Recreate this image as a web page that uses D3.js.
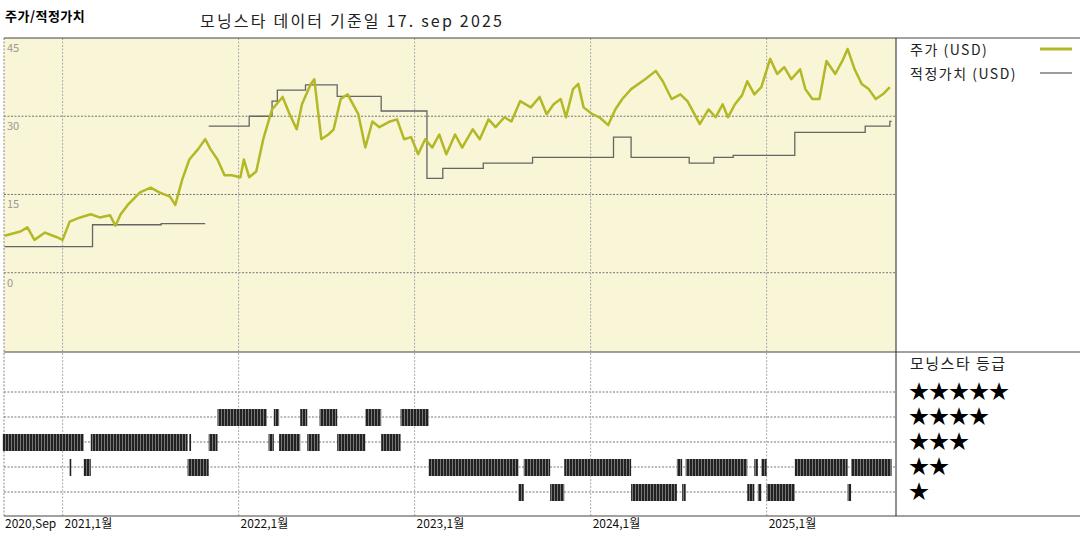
<!DOCTYPE html>
<html><head><meta charset="utf-8">
<script src="https://cdn.jsdelivr.net/npm/d3@7"></script>
<style>body{margin:0;background:#fff}text{font-family:"Noto Sans CJK KR","DejaVu Sans",sans-serif}</style>
</head><body><svg id="chart" width="1080" height="540"></svg>
<script>
// price (decimal years / USD)
const priceYears = [2020.67,2020.76,2020.80,2020.84,2020.90,2020.96,2021.00,2021.04,2021.10,2021.16,2021.21,2021.27,2021.30,2021.33,2021.37,2021.44,2021.50,2021.55,2021.61,2021.64,2021.68,2021.72,2021.77,2021.81,2021.84,2021.88,2021.92,2021.96,2022.01,2022.03,2022.06,2022.10,2022.14,2022.19,2022.25,2022.29,2022.33,2022.36,2022.41,2022.43,2022.45,2022.47,2022.51,2022.54,2022.58,2022.62,2022.64,2022.68,2022.72,2022.76,2022.80,2022.86,2022.90,2022.94,2022.98,2023.02,2023.06,2023.10,2023.14,2023.18,2023.23,2023.27,2023.33,2023.37,2023.42,2023.46,2023.51,2023.55,2023.60,2023.66,2023.71,2023.75,2023.79,2023.83,2023.86,2023.90,2023.93,2023.96,2024.01,2024.05,2024.10,2024.14,2024.18,2024.23,2024.31,2024.37,2024.41,2024.46,2024.51,2024.55,2024.59,2024.62,2024.67,2024.71,2024.75,2024.78,2024.82,2024.86,2024.89,2024.93,2024.97,2025.02,2025.06,2025.10,2025.14,2025.19,2025.22,2025.26,2025.30,2025.34,2025.39,2025.43,2025.46,2025.50,2025.54,2025.58,2025.62,2025.66,2025.70];
const priceValues = [7.1,7.9,8.7,6.3,7.7,6.9,6.3,9.8,10.6,11.2,10.6,11.0,9.0,11.2,13.0,15.4,16.3,15.4,14.6,13.0,17.9,21.7,23.7,25.6,23.7,21.7,18.7,18.7,18.3,21.7,18.3,19.4,25.6,31.3,33.7,30.4,27.5,32.3,36.2,37.1,31.3,25.6,26.5,27.5,33.3,34.2,32.9,30.4,24.0,29.0,27.9,29.0,29.4,25.6,26.0,22.7,25.6,24.0,26.5,22.7,26.5,24.0,27.5,25.6,29.4,27.9,29.8,29.0,32.9,31.7,33.7,30.4,32.3,33.3,29.8,35.2,36.2,31.7,30.4,29.8,28.3,31.3,33.3,35.2,37.1,38.7,36.7,33.3,34.2,32.9,30.4,28.5,31.3,29.8,32.3,29.8,32.3,34.0,36.7,34.2,35.6,41.0,38.1,39.4,37.1,39.0,35.2,33.3,33.3,40.6,38.1,40.6,42.9,39.0,36.2,35.2,33.3,34.2,35.6];
// fair value, null = gap
const fairYears = [2020.67,2021.17,2021.56,2021.81,2021.82,2021.83,2022.06,2022.19,2022.22,2022.38,2022.56,2022.81,2023.07,2023.16,2023.39,2023.67,2024.13,2024.23,2024.56,2024.70,2024.81,2025.16,2025.56,2025.70,2025.71];
const fairValues = [5.0,9.2,9.4,9.4,null,28.1,30.0,32.9,35.0,36.0,33.8,31.0,18.1,20.0,21.0,22.1,26.0,22.1,21.0,22.1,22.5,26.9,28.1,29.0,29.0];
// morningstar rating periods
const ratingStart = [2020.66,2021.16,2021.72,2021.83,2022.17,2022.23,2022.39,2022.56,2022.81, 2021.88,2022.20,2022.35,2022.46,2022.72,2022.92, 2021.04,2021.12,2021.71,2023.08,2023.62,2023.85,2024.49,2024.54,2024.93,2024.97,2025.16,2025.48, 2023.59,2023.77,2024.23,2024.52,2024.89,2024.95,2025.00,2025.46];
const ratingEnd   = [2021.12,2021.71,2021.73,2021.88,2022.20,2022.35,2022.46,2022.72,2022.92, 2022.16,2022.23,2022.39,2022.56,2022.81,2023.08, 2021.05,2021.16,2021.83,2023.59,2023.77,2024.23,2024.52,2024.89,2024.95,2025.00,2025.46,2025.71, 2023.62,2023.85,2024.49,2024.54,2024.93,2024.97,2025.16,2025.48];
const ratingStars = [3,3,3,3,3,3,3,3,3, 4,4,4,4,4,4, 2,2,2,2,2,2,2,2,2,2,2,2, 1,1,1,1,1,1,1,1];
const yTicks = [45,30,15,0];
const xTickYears = [2020.667,2021,2022,2023,2024,2025];
const xTickLabels = ["2020,Sep","2021,1월","2022,1월","2023,1월","2024,1월","2025,1월"];
const starRows = [5,4,3,2,1];

const svg = d3.select("#chart");
const L = 4, R = 896, T = 38, M = 352, B = 516;
const x = d3.scaleLinear().domain([2020.667, 2025.735]).range([L, R]);
const y = d3.scaleLinear().domain([-15.2, 45]).range([M, T]);
const yr = d3.scaleLinear().domain([5, 1]).range([392, 492]);

svg.append("rect").attr("x", L).attr("y", T).attr("width", R - L).attr("height", M - T).attr("fill", "#f9f5d7");

const defs = svg.append("defs");
const pat = defs.append("pattern").attr("id", "bars").attr("patternUnits", "userSpaceOnUse").attr("width", 3).attr("height", 20);
pat.append("rect").attr("width", 3).attr("height", 20).attr("fill", "#777");
pat.append("rect").attr("width", 2).attr("height", 20).attr("fill", "#222");

const dash = "2,1.5";
// grid
svg.selectAll(".hg").data(yTicks.slice(1)).join("line")
  .attr("x1", L).attr("x2", R).attr("y1", d => y(d)).attr("y2", d => y(d))
  .attr("stroke", "#777").attr("stroke-dasharray", dash);
svg.selectAll(".rg").data(starRows).join("line")
  .attr("x1", L).attr("x2", R).attr("y1", d => yr(d)).attr("y2", d => yr(d))
  .attr("stroke", "#777").attr("stroke-dasharray", dash);
svg.selectAll(".vg").data(xTickYears.slice(1)).join("line")
  .attr("x1", d => x(d)).attr("x2", d => x(d)).attr("y1", T).attr("y2", B)
  .attr("stroke", "#aaa").attr("stroke-dasharray", dash);
svg.append("line").attr("x1", L).attr("x2", L).attr("y1", T).attr("y2", B).attr("stroke", "#888").attr("stroke-dasharray", dash);

// y labels
svg.selectAll(".yl").data(yTicks).join("text")
  .attr("x", L + 3).attr("y", d => (d === 45 ? T : y(d)) + 14)
  .attr("font-size", 11).attr("fill", "#999").text(d => d);

// fair value
const fair = fairYears.map((t, i) => [t, fairValues[i]]);
svg.append("path").datum(fair)
  .attr("d", d3.line().defined(d => d[1] !== null).x(d => x(d[0])).y(d => y(d[1])).curve(d3.curveStepAfter))
  .attr("fill", "none").attr("stroke", "#666").attr("stroke-width", 1.3);

// price
const price = priceYears.map((t, i) => [t, priceValues[i]]);
svg.append("path").datum(price)
  .attr("d", d3.line().x(d => x(d[0])).y(d => y(d[1])))
  .attr("fill", "none").attr("stroke", "#b3b826").attr("stroke-width", 2.5).attr("stroke-linejoin", "round");

// ratings
svg.selectAll(".rb").data(ratingStart.map((s, i) => ({ s, e: ratingEnd[i], n: ratingStars[i] }))).join("rect")
  .attr("x", d => x(d.s)).attr("width", d => Math.max(1.5, x(d.e) - x(d.s)))
  .attr("y", d => yr(d.n) - 8).attr("height", 17).attr("fill", "url(#bars)");

// frame
svg.append("line").attr("x1", L).attr("x2", 1080).attr("y1", T).attr("y2", T).attr("stroke", "#444");
svg.append("line").attr("x1", L).attr("x2", 1080).attr("y1", M).attr("y2", M).attr("stroke", "#444");
svg.append("line").attr("x1", L).attr("x2", 1080).attr("y1", B).attr("y2", B).attr("stroke", "#444");
svg.append("line").attr("x1", R).attr("x2", R).attr("y1", T).attr("y2", B).attr("stroke", "#222");

// x labels
svg.selectAll(".xl").data(xTickYears).join("text")
  .attr("x", (d, i) => i === 0 ? 5 : x(d) + 2).attr("y", 528)
  .attr("font-size", 12).attr("fill", "#111").text((d, i) => xTickLabels[i]);

// titles
svg.append("text").attr("x", 5).attr("y", 21).attr("font-size", 13).attr("font-weight", "bold").attr("letter-spacing", 0.5).text("주가/적정가치");
svg.append("text").attr("x", 200).attr("y", 27).attr("font-size", 16).attr("letter-spacing", 2.2).attr("fill", "#222").text("모닝스타 데이터 기준일 17. sep 2025");

// legend
svg.append("text").attr("x", 910).attr("y", 55).attr("font-size", 14).attr("letter-spacing", 1.5).attr("fill", "#222").text("주가 (USD)");
svg.append("line").attr("x1", 1040).attr("x2", 1072).attr("y1", 49).attr("y2", 49).attr("stroke", "#b3b826").attr("stroke-width", 3);
svg.append("text").attr("x", 910).attr("y", 79).attr("font-size", 14).attr("letter-spacing", 1.5).attr("fill", "#222").text("적정가치 (USD)");
svg.append("line").attr("x1", 1040).attr("x2", 1072).attr("y1", 73).attr("y2", 73).attr("stroke", "#666").attr("stroke-width", 1.3);

svg.append("text").attr("x", 910).attr("y", 369).attr("font-size", 15).attr("letter-spacing", 1.5).attr("fill", "#222").text("모닝스타 등급");
svg.selectAll(".st").data(starRows).join("text")
  .attr("x", 909).attr("y", d => yr(d) + 7).attr("font-size", 20).attr("font-family", "DejaVu Sans")
  .text(d => "★".repeat(d));
</script></body></html>
